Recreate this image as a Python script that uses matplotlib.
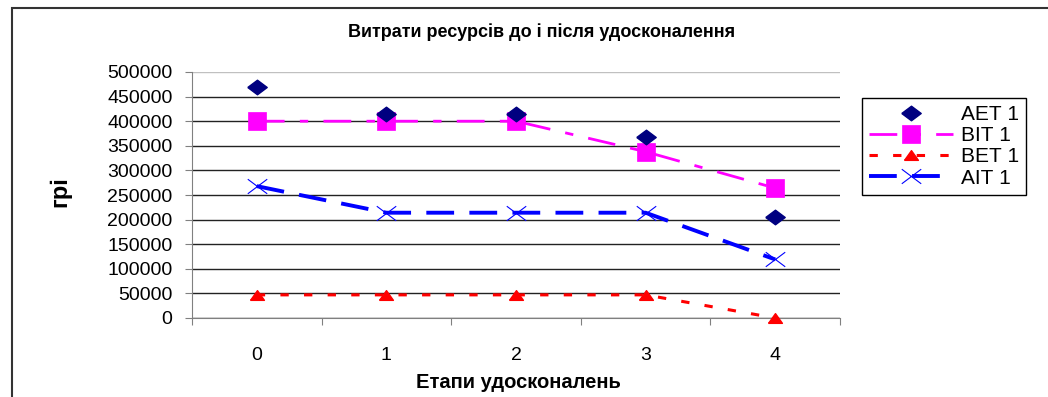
import matplotlib
matplotlib.use("Agg")
import matplotlib.pyplot as plt
from matplotlib.path import Path
from matplotlib.patches import Rectangle

plt.rcParams['font.family'] = ['Liberation Sans', 'DejaVu Sans']
plt.rcParams['lines.scale_dashes'] = False

# data
stages = [0, 1, 2, 3, 4]
aet = [470000, 414000, 414000, 367000, 205000]
bit = [400000, 400000, 400000, 338000, 264000]
bet = [47000, 47000, 47000, 47000, 0]
ait = [268000, 214000, 214000, 214000, 119000]
labels = ['АЕТ 1', 'ВІТ 1', 'ВЕТ 1', 'АІТ 1']
yticks = list(range(0, 500001, 50000))

# excel-like markers (flattened)
diamond = Path([(-1, 0), (0, 0.75), (1, 0), (0, -0.75), (-1, 0)])
tri = Path([(-1, -0.7), (1, -0.7), (0, 0.7), (-1, -0.7)])
cross = Path([(-1, -0.75), (1, 0.75), (-1, 0.75), (1, -0.75)],
             [Path.MOVETO, Path.LINETO, Path.MOVETO, Path.LINETO])

fig = plt.figure(figsize=(10.48, 3.97), dpi=100)
ax = fig.add_axes([192/1048, 1-318/397, 648/1048, 246/397])

ax.plot(stages, aet, linestyle='none', marker=diamond, ms=14,
        color='#000080', label=labels[0], zorder=5, clip_on=False)
ax.plot(stages, bit, color='#FF00FF', lw=2.0, dashes=[20, 11, 6, 11],
        marker='s', ms=12.5, mec='#FF00FF', mew=0.5, label=labels[1],
        zorder=4, clip_on=False)
ax.plot(stages, bet, color='#FF0000', lw=2.2, dashes=[6, 11],
        marker=tri, ms=10, label=labels[2], zorder=4, clip_on=False)
ax.plot(stages, ait, color='#0000FF', lw=2.8, dashes=[20, 11],
        marker=cross, ms=14, mew=0.8, mfc='none', mec='#0000FF',
        label=labels[3], zorder=4, clip_on=False)

ax.set_ylim(0, 500000)
ax.set_xlim(-0.5, 4.5)
ax.set_yticks(yticks)
ax.set_yticklabels([str(v) for v in yticks])
ax.yaxis.grid(True, color='#222222', lw=1.0)
ax.get_ygridlines()[-1].set_color('#c0c0c0')
ax.set_axisbelow(True)

# category axis: ticks between categories, labels at centres
ax.set_xticks([-0.5, 0.5, 1.5, 2.5, 3.5, 4.5])
ax.set_xticklabels([])
ax.set_xticks(stages, minor=True)
ax.set_xticklabels([str(s) for s in stages], minor=True)
ax.tick_params(axis='x', which='major', direction='out', length=5,
               color='#808080')
ax.tick_params(axis='x', which='minor', length=0, pad=21, labelsize=14)
ax.tick_params(axis='y', direction='out', length=5, pad=9,
               color='#808080', labelsize=14)

for s in ['top', 'right']:
    ax.spines[s].set_visible(False)
for s in ['left', 'bottom']:
    ax.spines[s].set_color('#808080')

fig.text(542/1048, 1-32/397, 'Витрати ресурсів до і після удосконалення',
         ha='center', va='center', fontsize=13, fontweight='bold')
fig.text(518/1048, 1-383/397, 'Етапи удосконалень',
         ha='center', va='center', fontsize=14.5, fontweight='bold')
fig.text(60/1048, 1-192/397, 'грі', rotation=90,
         ha='center', va='center', fontsize=17, fontweight='bold')

leg = fig.legend(loc='upper left', bbox_to_anchor=(862/1048, 1-98/397),
                 borderaxespad=0, fontsize=15, frameon=True, fancybox=False,
                 edgecolor='#000000', framealpha=1, handlelength=4.0,
                 handletextpad=0.4, labelspacing=0.1, borderpad=0.35)
leg.get_frame().set_linewidth(1.0)

fig.patches.append(Rectangle((12/1048, -0.5), 1.5, 1 - 8/397 + 0.5,
                             transform=fig.transFigure, fill=False,
                             edgecolor='#333333', lw=1.5))

plt.savefig('out.png', dpi=100)
